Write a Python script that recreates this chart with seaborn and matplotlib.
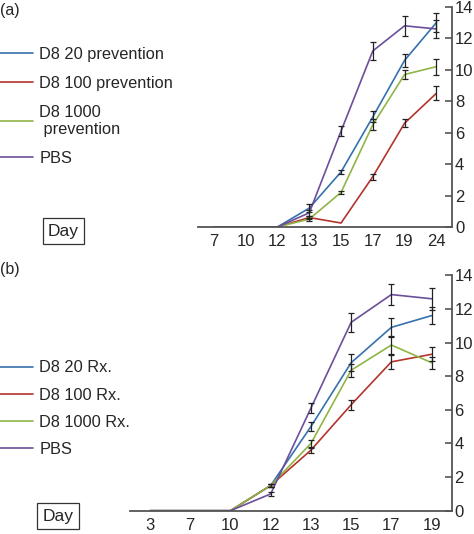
import numpy as np
import pandas as pd
import seaborn as sns
import matplotlib.pyplot as plt
from matplotlib.lines import Line2D

# Panel (a) - prevention
days_a = ['7', '10', '12', '13', '15', '17', '19', '24']
a_d20 = [0, 0, 0, 1.2, 3.5, 7.0, 10.6, 13.0]
a_d100 = [0, 0, 0, 0.6, 0.25, 3.2, 6.6, 8.5]
a_d1000 = [0, 0, 0, 0.5, 2.2, 6.5, 9.7, 10.2]
a_pbs = [0, 0, 0, 0.9, 6.1, 11.2, 12.8, 12.6]
a_d20_err = [0, 0, 0, 0.25, 0.15, 0.35, 0.4, 0.6]
a_d100_err = [0, 0, 0, 0.1, 0, 0.2, 0.25, 0.45]
a_d1000_err = [0, 0, 0, 0.1, 0.1, 0.35, 0.3, 0.5]
a_pbs_err = [0, 0, 0, 0.2, 0.3, 0.55, 0.65, 0.6]
labels_a = ['D8 20 prevention', 'D8 100 prevention', 'D8 1000\n prevention', 'PBS']

# Panel (b) - treatment
days_b = ['3', '7', '10', '12', '13', '15', '17', '19']
b_d20 = [0, 0, 0, 1.5, 5.0, 8.8, 10.9, 11.6]
b_d100 = [0, 0, 0, 1.5, 3.6, 6.3, 8.85, 9.3]
b_d1000 = [0, 0, 0, 1.5, 4.0, 8.35, 9.85, 8.8]
b_pbs = [0, 0, 0, 1.0, 6.1, 11.2, 12.85, 12.6]
b_d20_err = [0, 0, 0, 0.1, 0.25, 0.5, 0.55, 0.5]
b_d100_err = [0, 0, 0, 0.1, 0.15, 0.3, 0.4, 0.42]
b_d1000_err = [0, 0, 0, 0.1, 0.2, 0.4, 0.55, 0.36]
b_pbs_err = [0, 0, 0, 0.1, 0.3, 0.55, 0.6, 0.65]
labels_b = ['D8 20 Rx.', 'D8 100 Rx.', 'D8 1000 Rx.', 'PBS']

colors = ['#3671ad', '#b3342c', '#8fb545', '#6b4f9a']

sns.set_theme(style='white')
plt.rcParams['font.family'] = ['Liberation Sans', 'DejaVu Sans']
plt.rcParams['font.size'] = 12

FS = 12


def draw_panel(ax, days, series, errs, labels):
    pos = np.arange(len(days))
    rows = []
    for lab, vals in zip(labels, series):
        for p, v in zip(pos, vals):
            rows.append({'pos': p, 'score': v, 'group': lab})
    df = pd.DataFrame(rows)
    sns.lineplot(data=df, x='pos', y='score', hue='group', hue_order=labels,
                 palette=colors, linewidth=1.2, ax=ax, legend=False)
    for vals, err in zip(series, errs):
        vals = np.array(vals)
        err = np.array(err)
        m = err > 0
        ax.errorbar(pos[m], vals[m], yerr=err[m], fmt='none', ecolor='#222222',
                    elinewidth=0.9, capsize=2.5, capthick=0.9, zorder=5)
    ax.set_xlim(-0.5, len(days) - 0.5)
    ax.set_ylim(0, 14)
    ax.set_xticks(pos)
    ax.set_xticklabels(days, fontsize=FS)
    ax.set_xticks(pos[:-1] + 0.5, minor=True)
    ax.tick_params(axis='x', which='major', length=0, pad=5)
    ax.tick_params(axis='x', which='minor', direction='in', length=6,
                   width=1.2, color='#555555')
    ax.yaxis.tick_right()
    ax.set_yticks(range(0, 15, 2))
    ax.tick_params(axis='y', direction='in', length=5, width=1.2,
                   color='#555555', labelsize=FS, pad=2)
    for s in ['top', 'left']:
        ax.spines[s].set_visible(False)
    for s in ['right', 'bottom']:
        ax.spines[s].set_color('#555555')
        ax.spines[s].set_linewidth(1.3)
    ax.set_xlabel('')
    ax.set_ylabel('')


fig = plt.figure(figsize=(4.74, 5.34), dpi=100)
ax1 = fig.add_axes([0.418, 0.575, 0.536, 0.412])
ax2 = fig.add_axes([0.274, 0.0436, 0.679, 0.441])

draw_panel(ax1, days_a, [a_d20, a_d100, a_d1000, a_pbs],
           [a_d20_err, a_d100_err, a_d1000_err, a_pbs_err], labels_a)
draw_panel(ax2, days_b, [b_d20, b_d100, b_d1000, b_pbs],
           [b_d20_err, b_d100_err, b_d1000_err, b_pbs_err], labels_b)

handles = [Line2D([0], [0], color=c, lw=1.2) for c in colors]
fig.legend(handles, labels_a, loc='upper left', bbox_to_anchor=(0.0, 0.912),
           frameon=False, fontsize=11.8, handlelength=2.0, handletextpad=0.4,
           labelspacing=0.85, borderpad=0, borderaxespad=0)
fig.legend(handles, labels_b, loc='upper left', bbox_to_anchor=(0.0, 0.325),
           frameon=False, fontsize=11.8, handlelength=2.0, handletextpad=0.4,
           labelspacing=0.74, borderpad=0, borderaxespad=0)

box = dict(boxstyle='square,pad=0.3', fc='white', ec='#333333', lw=0.9)
fig.text(0.134, 1 - 231 / 534, 'Day', ha='center', va='center', fontsize=12.5, bbox=box)
fig.text(0.122, 1 - 516 / 534, 'Day', ha='center', va='center', fontsize=12.5, bbox=box)
fig.text(0.0, 0.995, '(a)', ha='left', va='top', fontsize=11.5)
fig.text(0.0, 1 - 262 / 534, '(b)', ha='left', va='top', fontsize=11.5)

fig.savefig('out.png', dpi=100)
